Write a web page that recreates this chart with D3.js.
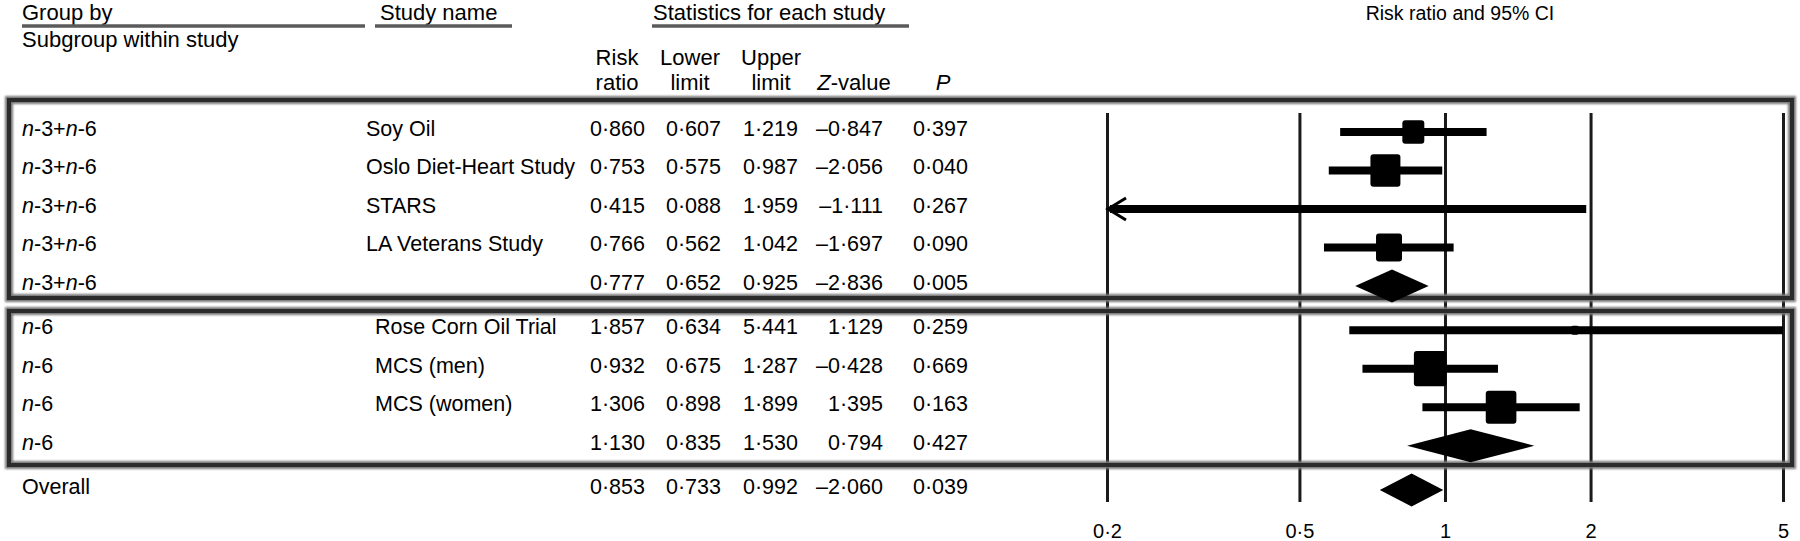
<!DOCTYPE html>
<html>
<head>
<meta charset="utf-8">
<script src="https://cdn.jsdelivr.net/npm/d3@7"></script>
<style>
body { margin: 0; background: #fff; }
svg { display: block; font-family: "Liberation Sans", Arial, Helvetica, sans-serif; }
</style>
</head>
<body>
<svg id="chart"></svg>
<script>
var width = 1800,
    height = 541;

// table data, one entry per row
var subgroups = ['n-3+n-6', 'n-3+n-6', 'n-3+n-6', 'n-3+n-6', 'n-3+n-6',
                 'n-6', 'n-6', 'n-6', 'n-6', 'Overall'];
var studyNames = ['Soy Oil', 'Oslo Diet-Heart Study', 'STARS', 'LA Veterans Study', '',
                  'Rose Corn Oil Trial', 'MCS (men)', 'MCS (women)', '', ''];
var groupIndex = [0, 0, 0, 0, 0, 1, 1, 1, 1, 2];
var isSummary = [false, false, false, false, true, false, false, false, true, true];
var riskRatio = [0.860, 0.753, 0.415, 0.766, 0.777, 1.857, 0.932, 1.306, 1.130, 0.853];
var lowerLimit = [0.607, 0.575, 0.088, 0.562, 0.652, 0.634, 0.675, 0.898, 0.835, 0.733];
var upperLimit = [1.219, 0.987, 1.959, 1.042, 0.925, 5.441, 1.287, 1.899, 1.530, 0.992];
var zValue = [-0.847, -2.056, -1.111, -1.697, -2.836, 1.129, -0.428, 1.395, 0.794, -2.060];
var pValue = [0.397, 0.040, 0.267, 0.090, 0.005, 0.259, 0.669, 0.163, 0.427, 0.039];
// relative weight (%) within subgroup
var weights = [23.3, 43.4, 0.8, 32.6, null, 3.2, 51.5, 45.3, null, null];

var axisTicks = [0.2, 0.5, 1, 2, 5];

var svg = d3.select('svg#chart')
    .attr('width', width)
    .attr('height', height);

var x = d3.scaleLog().domain([0.2, 5]).range([1107, 1783]);
var yRow = d3.scaleLinear().domain([0, 9.3]).range([132, 490]);
var squareSize = d3.scaleSqrt().domain([0, 100]).range([0, 45.5]);

function slot(i) {
    return i + 0.15 * groupIndex[i];
}

function fmt(v) {
    return (v < 0 ? '\u2013' : '') + Math.abs(v).toFixed(3).replace('.', '\u00b7');
}

// writes "n-3+n-6" style labels with italic n
function richText(sel, str) {
    str.split(/(n(?=-))/).forEach(function (part) {
        if (!part) return;
        sel.append('tspan')
            .attr('font-style', part === 'n' ? 'italic' : null)
            .text(part);
    });
}

var rows = d3.range(subgroups.length);

// blur for the heavy box borders
var defs = svg.append('defs');
defs.append('filter').attr('id', 'soft')
    .append('feGaussianBlur').attr('stdDeviation', 1.2);

// ---------- header ----------
var header = svg.append('g').attr('font-size', 22).attr('fill', '#000');

header.append('text').attr('x', 22).attr('y', 20).text('Group by');
header.append('text').attr('x', 22).attr('y', 47).text('Subgroup within study');
header.append('text').attr('x', 380).attr('y', 20).text('Study name');
header.append('text').attr('x', 653).attr('y', 20).text('Statistics for each study');
header.append('text').attr('x', 1460).attr('y', 20)
    .attr('text-anchor', 'middle').attr('font-size', 19.5)
    .text('Risk ratio and 95% CI');

var underlines = [[22, 365], [375, 512], [652, 909]];
header.selectAll('line.under')
    .data(underlines)
    .join('line')
    .attr('class', 'under')
    .attr('x1', function (d) { return d[0]; })
    .attr('x2', function (d) { return d[1]; })
    .attr('y1', 26).attr('y2', 26)
    .attr('stroke', '#5a5a5a')
    .attr('stroke-width', 3.5);

var statColumns = [
    { top: 'Risk', bottom: 'ratio', values: riskRatio, right: 645, center: 617 },
    { top: 'Lower', bottom: 'limit', values: lowerLimit, right: 721, center: 690 },
    { top: 'Upper', bottom: 'limit', values: upperLimit, right: 798, center: 771 },
    { top: '', bottom: 'Z-value', values: zValue, right: 883, center: 854 },
    { top: '', bottom: 'P', values: pValue, right: 968, center: 943 }
];

statColumns.forEach(function (col) {
    header.append('text').attr('x', col.center).attr('y', 65)
        .attr('text-anchor', 'middle').text(col.top);
    var b = header.append('text').attr('x', col.center).attr('y', 90)
        .attr('text-anchor', 'middle');
    if (col.bottom === 'Z-value') {
        b.append('tspan').attr('font-style', 'italic').text('Z');
        b.append('tspan').text('-value');
    } else if (col.bottom === 'P') {
        b.append('tspan').attr('font-style', 'italic').text('P');
    } else {
        b.text(col.bottom);
    }
});

// ---------- gridlines / axis ----------
var axis = d3.axisBottom(x)
    .tickValues(axisTicks)
    .tickFormat(function (d) { return String(d).replace('.', '\u00b7'); })
    .tickSizeInner(-(502 - 113))
    .tickSizeOuter(0)
    .tickPadding(22);

var axisG = svg.append('g')
    .attr('transform', 'translate(0,502)')
    .call(axis);
axisG.select('.domain').remove();
axisG.selectAll('.tick line').attr('stroke', '#1a1a1a').attr('stroke-width', 3);
axisG.selectAll('.tick text')
    .attr('font-size', 20)
    .attr('font-family', '"Liberation Sans", Arial, sans-serif')
    .attr('fill', '#000');

// ---------- group boxes ----------
var boxes = [
    { y0: 100, y1: 298 },
    { y0: 311, y1: 465 }
];
var boxG = svg.append('g');
boxG.selectAll('rect.shadow')
    .data(boxes)
    .join('rect')
    .attr('class', 'shadow')
    .attr('x', 9).attr('width', 1792 - 9)
    .attr('y', function (d) { return d.y0; })
    .attr('height', function (d) { return d.y1 - d.y0; })
    .attr('fill', 'none')
    .attr('stroke', '#777')
    .attr('stroke-width', 8)
    .attr('filter', 'url(#soft)');
boxG.selectAll('rect.frame')
    .data(boxes)
    .join('rect')
    .attr('class', 'frame')
    .attr('x', 9).attr('width', 1792 - 9)
    .attr('y', function (d) { return d.y0; })
    .attr('height', function (d) { return d.y1 - d.y0; })
    .attr('fill', 'none')
    .attr('stroke', '#2b2b2b')
    .attr('stroke-width', 4);

// ---------- table body ----------
var body = svg.append('g').attr('font-size', 21.5).attr('fill', '#000');

rows.forEach(function (i) {
    var base = yRow(slot(i)) + 4;
    richText(body.append('text').attr('x', 22).attr('y', base), subgroups[i]);
    if (studyNames[i]) {
        body.append('text')
            .attr('x', groupIndex[i] === 0 ? 366 : 375)
            .attr('y', base)
            .text(studyNames[i]);
    }
    statColumns.forEach(function (col) {
        body.append('text')
            .attr('x', col.right).attr('y', base)
            .attr('text-anchor', 'end')
            .text(fmt(col.values[i]));
    });
});

// ---------- forest marks ----------
var marks = svg.append('g');
var lo = x.domain()[0], hi = x.domain()[1];

rows.filter(function (i) { return !isSummary[i]; }).forEach(function (i) {
    var y = yRow(slot(i));
    var l = Math.max(lowerLimit[i], lo),
        u = Math.min(upperLimit[i], hi);
    marks.append('line')
        .attr('x1', x(l) + (lowerLimit[i] < lo ? 3 : 0))
        .attr('x2', x(u))
        .attr('y1', y).attr('y2', y)
        .attr('stroke', '#000')
        .attr('stroke-width', 8);
    if (lowerLimit[i] < lo) {
        var ax = x(lo) + 1;
        marks.append('path')
            .attr('d', 'M' + (ax + 18) + ',' + (y - 11) + 'L' + ax + ',' + y + 'L' + (ax + 18) + ',' + (y + 11))
            .attr('fill', 'none')
            .attr('stroke', '#000')
            .attr('stroke-width', 3);
    }
    var s = squareSize(weights[i]);
    marks.append('rect')
        .attr('x', x(riskRatio[i]) - s / 2)
        .attr('y', y - s * 0.54)
        .attr('width', s)
        .attr('height', s * 1.08)
        .attr('rx', Math.min(3, s / 4))
        .attr('fill', '#000');
});

rows.filter(function (i) { return isSummary[i]; }).forEach(function (i) {
    var y = yRow(slot(i)), h = 16.5;
    marks.append('path')
        .attr('d', 'M' + x(lowerLimit[i]) + ',' + y +
                   'L' + x(riskRatio[i]) + ',' + (y - h) +
                   'L' + x(upperLimit[i]) + ',' + y +
                   'L' + x(riskRatio[i]) + ',' + (y + h) + 'Z')
        .attr('fill', '#000');
});
</script>
</body>
</html>
